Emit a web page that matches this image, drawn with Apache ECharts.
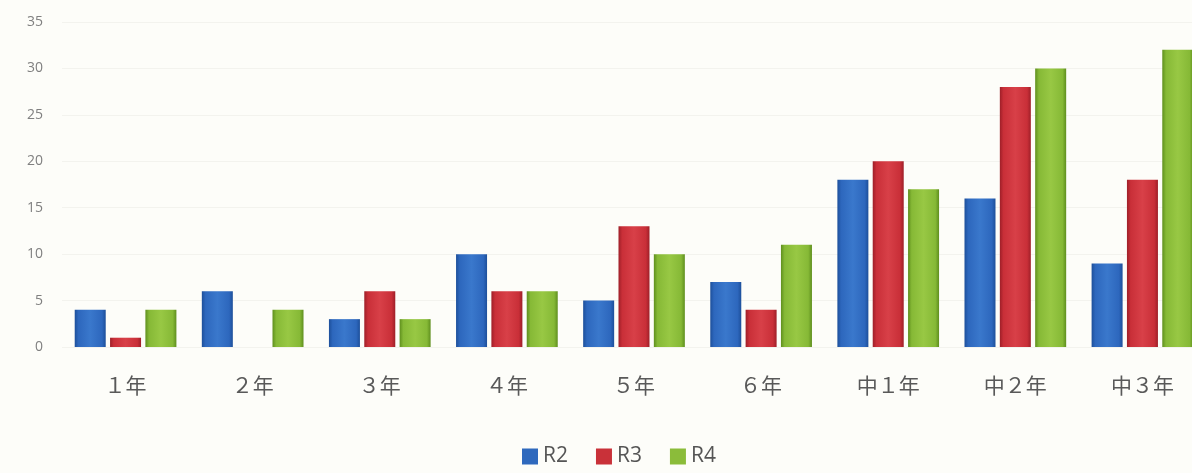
<!DOCTYPE html>
<html><head><meta charset="utf-8">
<script src="https://cdn.jsdelivr.net/npm/echarts@6/dist/echarts.min.js"></script>
<style>html,body{margin:0;padding:0;background:#fdfdf9;overflow:hidden;}#c{width:1206px;height:473px;}</style>
</head><body><div id="c"></div>
<script>
var categories = ['１年','２年','３年','４年','５年','６年','中１年','中２年','中３年'];
var seriesNames = ['R2','R3','R4'];
var r2 = [4, 6, 3, 10, 5, 7, 18, 16, 9];
var r3 = [1, 0, 6, 6, 13, 4, 20, 28, 18];
var r4 = [4, 4, 3, 6, 10, 11, 17, 30, 32];
var yTicks = [0, 5, 10, 15, 20, 25, 30, 35];

function grad(dark, mid, light) {
  return new echarts.graphic.LinearGradient(0, 0, 1, 0, [
    {offset: 0, color: dark}, {offset: 0.12, color: mid}, {offset: 0.5, color: light},
    {offset: 0.88, color: mid}, {offset: 1, color: dark}
  ]);
}
var colors = [
  grad('#1d4f9a', '#2d67bd', '#3a78cc'),
  grad('#9e1f28', '#c92f38', '#d84048'),
  grad('#5f8f1e', '#86b936', '#98c844')
];
var legendColors = ['#2f69bd', '#c93139', '#8bbc3a'];
var data = [r2, r3, r4];

var chart = echarts.init(document.getElementById('c'));
chart.setOption({
  backgroundColor: '#fdfdf9',
  animation: false,
  grid: {left: 62, right: 0, top: 22, bottom: 126},
  legend: {
    data: seriesNames.map(function(n, i){ return {name: n, itemStyle: {color: legendColors[i]}}; }),
    left: 517, top: 441, itemWidth: 16, itemHeight: 16, itemGap: 28,
    icon: 'rect',
    textStyle: {fontSize: 21, color: '#555', fontFamily: 'Open Sans, sans-serif'}
  },
  xAxis: {
    type: 'category', data: categories,
    axisLine: {show: false}, axisTick: {show: false},
    axisLabel: {fontSize: 21, color: '#595959', margin: 28, fontFamily: 'Noto Sans CJK JP, sans-serif'}
  },
  yAxis: {
    type: 'value', min: 0, max: 35, interval: 5,
    axisLine: {show: false}, axisTick: {show: false},
    splitLine: {show: true, lineStyle: {color: '#f3f3ee'}},
    axisLabel: {fontSize: 14, color: '#808080', margin: 19, fontFamily: 'Open Sans, sans-serif',
      formatter: function(v){ return yTicks.indexOf(v) >= 0 ? String(v) : ''; }}
  },
  series: seriesNames.map(function(n, i){
    return {
      name: n, type: 'bar', data: data[i],
      barWidth: 31, barGap: '14%', barCategoryGap: '21%',
      itemStyle: {color: colors[i]}
    };
  })
});
</script></body></html>
